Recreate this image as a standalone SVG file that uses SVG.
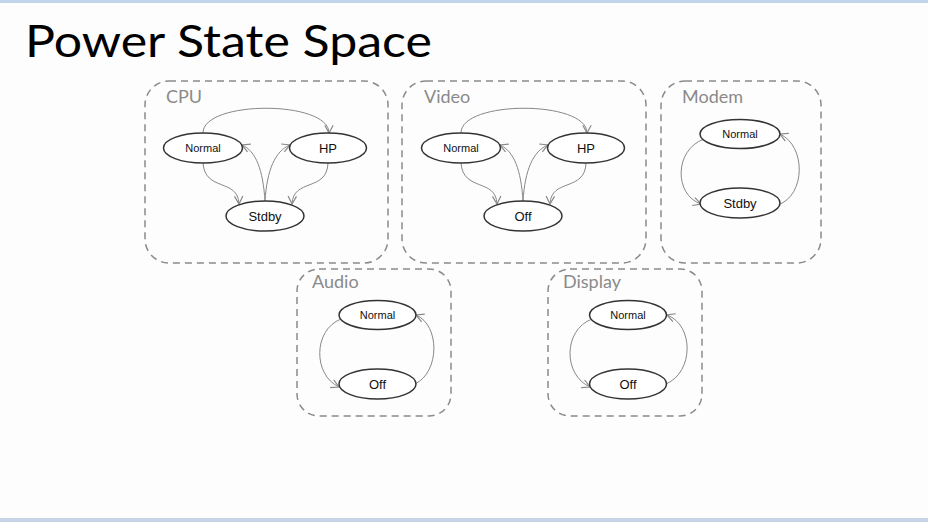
<svg xmlns="http://www.w3.org/2000/svg" width="928" height="522" viewBox="0 0 928 522">
<defs>
<marker id="arr" markerUnits="userSpaceOnUse" markerWidth="12" markerHeight="12" viewBox="-8 -5 10 10" refX="0" refY="0" orient="auto">
<path d="M-6.5,-3.5 L0,0 L-6.5,3.5" fill="none" stroke="#888" stroke-width="1"/>
</marker>
</defs>
<style>
.box{fill:none;stroke:#8a8a8a;stroke-width:1.5;stroke-dasharray:7 5}
.lbl{font-family:Lato,"Open Sans","Liberation Sans",sans-serif;font-size:18px;fill:#8a8a8a}
.st{fill:#fff;stroke:#333;stroke-width:1.5}
.tx{font-family:"Liberation Sans",Arial,sans-serif;fill:#111;text-anchor:middle;dominant-baseline:central}
.n{font-size:11px}
.b{font-size:13px}
.e{fill:none;stroke:#888;stroke-width:1;marker-end:url(#arr)}
</style>
<rect width="928" height="522" fill="#fdfdfd"/>
<rect x="0" y="0" width="928" height="3" fill="#c2d3ec"/>
<rect x="0" y="518" width="928" height="4" fill="#c7d4e8"/>
<text x="25" y="57" font-family="Lato,'Open Sans','Liberation Sans',sans-serif" font-size="44" fill="#000" textLength="407" lengthAdjust="spacingAndGlyphs">Power State Space</text>

<g id="cpu">
<rect class="box" x="145" y="81" width="243" height="182" rx="24"/>
<text class="lbl" x="166" y="103">CPU</text>
</g>
<g id="video">
<rect class="box" x="402" y="81" width="244" height="182" rx="24"/>
<text class="lbl" x="424" y="103">Video</text>
</g>
<g id="modem">
<rect class="box" x="661" y="81" width="160" height="182" rx="24"/>
<text class="lbl" x="682" y="103">Modem</text>
</g>
<g id="audio">
<rect class="box" x="297" y="269" width="154" height="147" rx="22"/>
<text class="lbl" x="312" y="288">Audio</text>
</g>
<g id="display">
<rect class="box" x="548" y="269" width="154" height="147" rx="22"/>
<text class="lbl" x="563" y="288">Display</text>
</g>

<g id="connectors">
<path class="e" d="M203,133 C203,100 329,100 329,133"/>
<path class="e" d="M203,163 C205,192 238,178 239,204"/>
<path class="e" d="M328,163 C327,192 293,178 292,204"/>
<path class="e" d="M265,201 C263,170 256,151 242,145"/>
<path class="e" d="M265,201 C267,170 275,151 290,145"/>

<path class="e" d="M461,133 C461,100 587,100 587,133"/>
<path class="e" d="M461,163 C463,192 496,178 497,204"/>
<path class="e" d="M586,163 C585,192 551,178 550,204"/>
<path class="e" d="M523,201 C521,170 514,151 500,145"/>
<path class="e" d="M523,201 C525,170 533,151 548,145"/>

<path class="e" d="M704,139 C674,150 674,195 701,204"/>
<path class="e" d="M778,205 C806,195 806,146 780,134"/>

<path class="e" d="M341,319 C313,330 313,375 339,387"/>
<path class="e" d="M415,384 C440,372 440,325 416,315"/>

<path class="e" d="M592,319 C563,330 563,375 590,387"/>
<path class="e" d="M666,384 C694,372 694,325 667,315"/>
</g>

<g id="cpu-normal"><ellipse class="st" cx="203" cy="148" rx="39.5" ry="15"/><text class="tx n" x="203" y="148">Normal</text></g>
<g id="cpu-hp"><ellipse class="st" cx="328" cy="148" rx="38.5" ry="15"/><text class="tx b" x="328" y="148">HP</text></g>
<g id="cpu-stdby"><ellipse class="st" cx="265" cy="216" rx="39" ry="15"/><text class="tx b" x="265" y="216">Stdby</text></g>

<g id="video-normal"><ellipse class="st" cx="461" cy="148" rx="39.5" ry="15"/><text class="tx n" x="461" y="148">Normal</text></g>
<g id="video-hp"><ellipse class="st" cx="586" cy="148" rx="38.5" ry="15"/><text class="tx b" x="586" y="148">HP</text></g>
<g id="video-off"><ellipse class="st" cx="523" cy="216" rx="39" ry="15"/><text class="tx b" x="523" y="216">Off</text></g>

<g id="modem-normal"><ellipse class="st" cx="740" cy="134" rx="40" ry="14.5"/><text class="tx n" x="740" y="134">Normal</text></g>
<g id="modem-stdby"><ellipse class="st" cx="740" cy="203" rx="40" ry="15"/><text class="tx b" x="740" y="203">Stdby</text></g>

<g id="audio-normal"><ellipse class="st" cx="377.5" cy="315" rx="38.5" ry="14.5"/><text class="tx n" x="377.5" y="315">Normal</text></g>
<g id="audio-off"><ellipse class="st" cx="377.5" cy="384" rx="38.5" ry="15"/><text class="tx b" x="377.5" y="384">Off</text></g>

<g id="display-normal"><ellipse class="st" cx="628" cy="315" rx="38.5" ry="14.5"/><text class="tx n" x="628" y="315">Normal</text></g>
<g id="display-off"><ellipse class="st" cx="628" cy="384" rx="38.5" ry="15"/><text class="tx b" x="628" y="384">Off</text></g>
</svg>
